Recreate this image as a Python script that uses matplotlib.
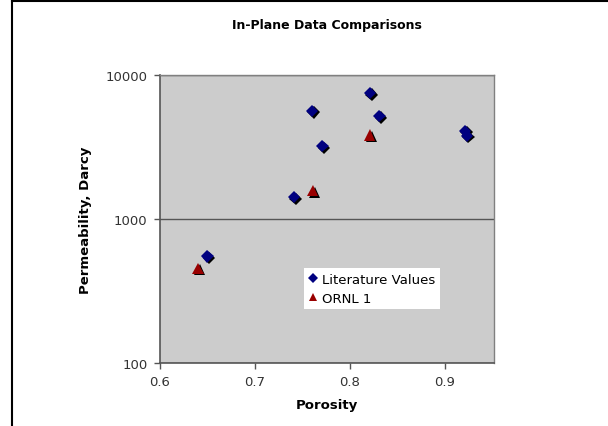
import matplotlib
matplotlib.use("Agg")
import matplotlib.pyplot as plt
import matplotlib.patheffects as pe
from matplotlib.lines import Line2D

# data
lit_porosity = [0.650, 0.741, 0.760, 0.771, 0.821, 0.831, 0.921, 0.923]
lit_perm = [550, 1415, 5650, 3200, 7500, 5200, 4100, 3800]

ornl_porosity = [0.640, 0.761, 0.821]
ornl_perm = [455, 1570, 3830]

x_ticks = [0.6, 0.7, 0.8, 0.9]
y_ticks = [100, 1000, 10000]

fig = plt.figure(figsize=(6.08, 4.27), dpi=100)
ax = fig.add_axes([160 / 608, 1 - 364 / 427, 334 / 608, 288 / 427])
ax.set_facecolor("#cccccc")

shadow = [pe.SimplePatchShadow(offset=(1.2, -1.2), shadow_rgbFace="black", alpha=1.0), pe.Normal()]

ax.plot(lit_porosity, lit_perm, linestyle="none", marker="D", markersize=6.3,
        color="#000080", markeredgewidth=0, path_effects=shadow, zorder=3)
ax.plot(ornl_porosity, ornl_perm, linestyle="none", marker="^", markersize=8,
        color="#990000", markeredgewidth=0, path_effects=shadow, zorder=3)

ax.set_yscale("log")
ax.set_xlim(0.6, 0.9516)
ax.set_ylim(100, 10000)
ax.set_xticks(x_ticks)
ax.set_xticklabels([str(t) for t in x_ticks])
ax.set_yticks(y_ticks)
ax.set_yticklabels([str(t) for t in y_ticks])
ax.minorticks_off()
ax.yaxis.grid(True, color="#555555", linewidth=1)
ax.set_axisbelow(True)

for s in ["left", "bottom"]:
    ax.spines[s].set_color("#555555")
    ax.spines[s].set_linewidth(1.2)
for s in ["top", "right"]:
    ax.spines[s].set_color("#808080")
    ax.spines[s].set_linewidth(1.0)

ax.tick_params(direction="out", length=4, width=1, color="#555555",
               labelsize=9.5, labelcolor="#333333", pad=5)

ax.set_xlabel("Porosity", fontsize=9.5, fontweight="bold", labelpad=7)
ax.set_ylabel("Permeability, Darcy", fontsize=9.5, fontweight="bold", labelpad=10)
fig.text(327 / 608, 1 - 25 / 427, "In-Plane Data Comparisons", fontsize=9,
         fontweight="bold", ha="center", va="center")

# legend handles without the marker shadow
handles = [
    Line2D([], [], linestyle="none", marker="D", markersize=5, color="#000080", markeredgewidth=0),
    Line2D([], [], linestyle="none", marker="^", markersize=6, color="#990000", markeredgewidth=0),
]
leg = ax.legend(handles, ["Literature Values", "ORNL 1"], loc="upper left",
                bbox_to_anchor=((304 - 160) / 334, (364 - 269) / 288),
                frameon=True, fancybox=False, framealpha=1, edgecolor="none",
                facecolor="white", fontsize=9.5, handlelength=0.7, handletextpad=0.35,
                borderpad=0.35, labelspacing=0.45, borderaxespad=0)

# outer chart frame (left and top edges visible)
fig.add_artist(Line2D([12 / 608, 12 / 608], [0, 1 - 2 / 427], color="black", linewidth=1.5))
fig.add_artist(Line2D([12 / 608, 1], [1 - 2 / 427, 1 - 2 / 427], color="black", linewidth=1.5))

fig.savefig("out.png", dpi=100)
